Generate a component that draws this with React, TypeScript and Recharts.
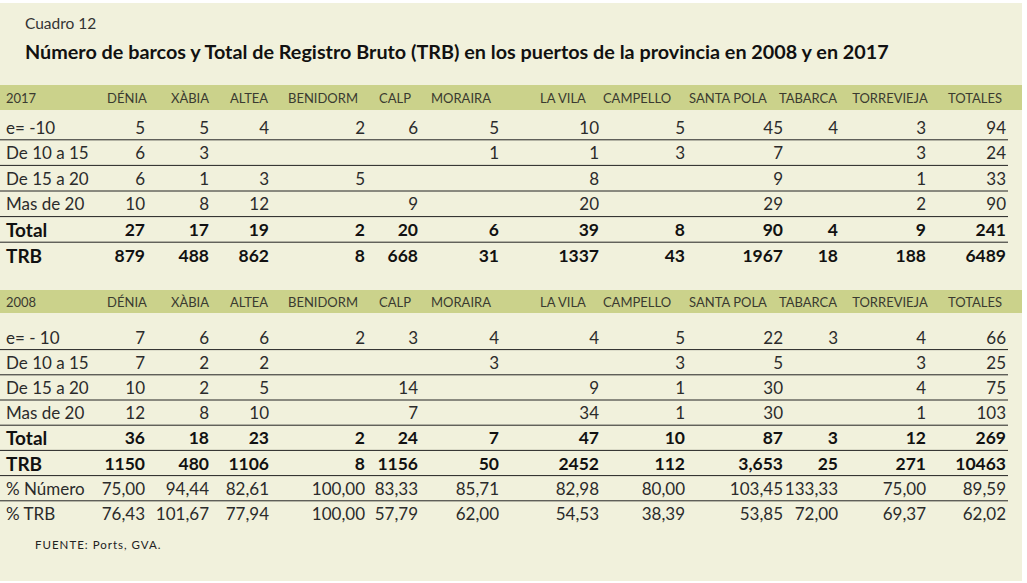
import { ScatterChart, Scatter, XAxis, YAxis, ReferenceArea, ReferenceLine } from 'recharts';

// columns
const ports = ['DÉNIA', 'XÀBIA', 'ALTEA', 'BENIDORM', 'CALP', 'MORAIRA', 'LA VILA', 'CAMPELLO', 'SANTA POLA', 'TABARCA', 'TORREVIEJA', 'TOTALES'];

// 2017
const labels2017 = ['e= -10', 'De 10 a 15', 'De 15 a 20', 'Mas de 20', 'Total', 'TRB'];
const lt10_2017 = [5, 5, 4, 2, 6, 5, 10, 5, 45, 4, 3, 94];
const d10_15_2017 = [6, 3, null, null, null, 1, 1, 3, 7, null, 3, 24];
const d15_20_2017 = [6, 1, 3, 5, null, null, 8, null, 9, null, 1, 33];
const gt20_2017 = [10, 8, 12, null, 9, null, 20, null, 29, null, 2, 90];
const total2017 = [27, 17, 19, 2, 20, 6, 39, 8, 90, 4, 9, 241];
const trb2017 = [879, 488, 862, 8, 668, 31, 1337, 43, 1967, 18, 188, 6489];

// 2008
const labels2008 = ['e= - 10', 'De 10 a 15', 'De 15 a 20', 'Mas de 20', 'Total', 'TRB', '% Número', '% TRB'];
const lt10_2008 = [7, 6, 6, 2, 3, 4, 4, 5, 22, 3, 4, 66];
const d10_15_2008 = [7, 2, 2, null, null, 3, null, 3, 5, null, 3, 25];
const d15_20_2008 = [10, 2, 5, null, 14, null, 9, 1, 30, null, 4, 75];
const gt20_2008 = [12, 8, 10, null, 7, null, 34, 1, 30, null, 1, 103];
const total2008 = [36, 18, 23, 2, 24, 7, 47, 10, 87, 3, 12, 269];
const trb2008 = [1150, 480, 1106, 8, 1156, 50, 2452, 112, '3,653', 25, 271, 10463];
const pctNumero = [75.0, 94.44, 82.61, 100.0, 83.33, 85.71, 82.98, 80.0, 103.45, 133.33, 75.0, 89.59];
const pctTrb = [76.43, 101.67, 77.94, 100.0, 57.79, 62.0, 54.53, 38.39, 53.85, 72.0, 69.37, 62.02];

// layout (px)
const W = 1027;
const H = 583;
const labelX = 6;
const colRight = [145, 209, 269, 365, 418, 499, 599, 685, 783, 838, 926, 1006];
const headCenter = [127, 190, 249, 323, 395, 461, 563, 637, 728, 808, 890, 975];
const lineEnd = 1008;

const CREAM = '#f1f1dc';
const BAND = '#cbd28b';
const INK = '#2b2b2b';
const FONT = 'Lato, "Open Sans", sans-serif';

type Cell = { x: number; y: number; text: string; bold?: boolean };

const pct = (v: number) => v.toFixed(2).replace('.', ',');

function block(
  year: string,
  headY: number,
  bandTop: number,
  bandBottom: number,
  firstRow: number,
  rowH: number,
  labels: string[],
  rows: (number | string | null)[][],
  boldRows: number[],
  pctFrom: number,
) {
  const heads: Cell[] = [{ x: labelX, y: headY, text: year }];
  const headCols: Cell[] = ports.map((p, i) => ({ x: headCenter[i], y: headY, text: p }));
  const rowLabels: Cell[] = [];
  const nums: Cell[] = [];
  const lines: number[] = [];
  rows.forEach((r, ri) => {
    const y = firstRow + ri * rowH;
    const bold = boldRows.includes(ri);
    rowLabels.push({ x: labelX, y, text: labels[ri], bold });
    r.forEach((v, ci) => {
      if (v === null) return;
      const text = typeof v === 'number' && ri >= pctFrom ? pct(v) : String(v);
      nums.push({ x: colRight[ci], y, text, bold });
    });
    if (ri < rows.length - 1) lines.push(y + rowH / 2);
  });
  return { heads, headCols, rowLabels, nums, lines, band: [bandTop, bandBottom] };
}

const b2017 = block('2017', 97.5, 85, 110, 127, 25.6,
  labels2017,
  [lt10_2017, d10_15_2017, d15_20_2017, gt20_2017, total2017, trb2017],
  [4, 5], 99);

const b2008 = block('2008', 301.5, 290, 313, 337, 25.2,
  labels2008,
  [lt10_2008, d10_15_2008, d15_20_2008, gt20_2008, total2008, trb2008, pctNumero, pctTrb],
  [4, 5], 6);

const textShape = (anchor: 'start' | 'middle' | 'end', size: number, boldSize: number, color: string) => (p: any) => {
  const d: Cell = p.payload;
  return (
    <text
      x={p.cx}
      y={p.cy}
      textAnchor={anchor}
      dominantBaseline="central"
      fontFamily={FONT}
      fontSize={d.bold ? boldSize : size}
      fontWeight={d.bold ? 700 : 400}
      fill={d.bold ? '#111' : color}
    >
      {d.text}
    </text>
  );
};

export default function App() {
  const blocks = [b2017, b2008];
  return (
    <div style={{ position: 'absolute', left: 0, top: 0, width: W, height: H, background: '#fff', overflow: 'hidden' }}>
      <div style={{ position: 'absolute', left: 0, top: 3, width: 1022, height: 578, background: CREAM }} />
      <div style={{ position: 'absolute', left: 25, top: 14, fontFamily: FONT, fontSize: 15.5, color: '#333' }}>Cuadro 12</div>
      <div style={{ position: 'absolute', left: 25, top: 39, fontFamily: FONT, fontSize: 19.8, fontWeight: 700, color: '#111', whiteSpace: 'nowrap' }}>
        Número de barcos y Total de Registro Bruto (TRB) en los puertos de la provincia en 2008 y en 2017
      </div>
      <div style={{ position: 'absolute', left: 35, top: 538, fontFamily: FONT, fontSize: 11.5, letterSpacing: 1, color: '#222' }}>FUENTE: Ports, GVA.</div>
      <div style={{ position: 'absolute', left: 0, top: 0 }}>
        <ScatterChart width={W} height={H} margin={{ top: 0, right: 0, bottom: 0, left: 0 }}>
          <XAxis type="number" dataKey="x" domain={[0, W]} hide />
          <YAxis type="number" dataKey="y" domain={[0, H]} reversed hide />
          {blocks.map((b, i) => (
            <ReferenceArea key={'band' + i} x1={0} x2={1022} y1={b.band[0]} y2={b.band[1]} fill={BAND} fillOpacity={1} stroke="none" />
          ))}
          {blocks.flatMap((b, i) =>
            b.lines.map((y, j) => (
              <ReferenceLine key={`l${i}-${j}`} segment={[{ x: 0, y }, { x: lineEnd, y }]} stroke="#222" strokeWidth={1} />
            )),
          )}
          {blocks.map((b, i) => (
            <Scatter key={'h' + i} data={b.heads} isAnimationActive={false} shape={textShape('start', 13, 13, '#3a3a30')} />
          ))}
          {blocks.map((b, i) => (
            <Scatter key={'hc' + i} data={b.headCols} isAnimationActive={false} shape={textShape('middle', 13, 13, '#3a3a30')} />
          ))}
          {blocks.map((b, i) => (
            <Scatter key={'rl' + i} data={b.rowLabels} isAnimationActive={false} shape={textShape('start', 17, 19, INK)} />
          ))}
          {blocks.map((b, i) => (
            <Scatter key={'n' + i} data={b.nums} isAnimationActive={false} shape={textShape('end', 17, 17.5, INK)} />
          ))}
        </ScatterChart>
      </div>
    </div>
  );
}
